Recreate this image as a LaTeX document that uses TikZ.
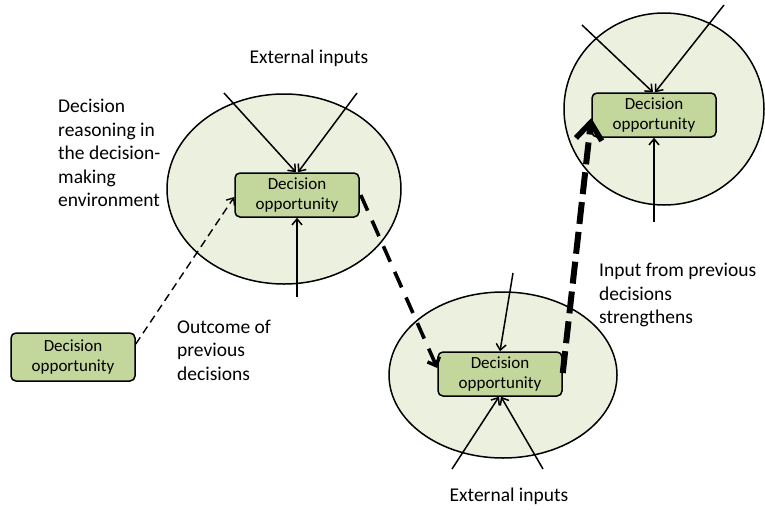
\documentclass[tikz,border=0pt]{standalone}
\usepackage{fontspec}
\setmainfont{Carlito}
\usetikzlibrary{shapes.geometric,arrows.meta}
\definecolor{envfill}{HTML}{EBF1DE}
\definecolor{boxfill}{HTML}{C3D69B}
\tikzset{
  env/.style={ellipse,draw=black,line width=1.5pt,fill=envfill,inner sep=0pt},
  dbox/.style={draw=black,line width=1.5pt,fill=boxfill,rounded corners=5pt,
    minimum width=124pt,minimum height=44pt,inner sep=0pt,align=center,
    font=\fontsize{17}{20.5}\selectfont},
  inarrow/.style={line width=1.5pt,-{Straight Barb[length=6pt,width=10pt,line width=1.5pt]}},
  lbl/.style={font=\fontsize{19.5}{23.5}\selectfont,align=left,inner sep=0pt,anchor=west},
  thindash/.style={line width=1.4pt,dash pattern=on 8pt off 5pt,-{Straight Barb[length=6pt,width=10pt,line width=1.4pt]}},
  meddash/.style={line width=3.6pt,dash pattern=on 17pt off 11pt,-{Straight Barb[length=7pt,width=13pt,line width=3.4pt]}},
  bigdash/.style={line width=6pt,dash pattern=on 22pt off 8pt,-{Straight Barb[length=17pt,width=26pt,line width=5.5pt]}}
}
\begin{document}
\begin{tikzpicture}[x=1pt,y=-1pt]
\useasboundingbox[fill=white] (0,0) rectangle (765,509);
% environments
\node[env,minimum width=234pt,minimum height=190pt] (e1) at (284,189) {};
\node[env,minimum width=228pt,minimum height=166pt] (e2) at (503,375) {};
\node[env,minimum width=200pt,minimum height=192pt] (e3) at (664,109) {};
% decision boxes
\node[dbox] (b1) at (297,195) {Decision\\opportunity};
\node[dbox] (b2) at (500,374) {Decision\\opportunity};
\node[dbox] (b3) at (654,115) {Decision\\opportunity};
\node[dbox,minimum height=48pt] (b0) at (73,357) {Decision\\opportunity};
% free ends
\coordinate (a1) at (224,93);
\coordinate (a2) at (357,93);
\coordinate (a3) at (297,297);
\coordinate (c1) at (513,273);
\coordinate (c2) at (452,469);
\coordinate (c3) at (543,469);
\coordinate (d1) at (582,25);
\coordinate (d2) at (724,5);
\coordinate (d3) at (654,222);
% input arrows
\draw[inarrow] (a1) -- ([xshift=-1pt]b1.north);
\draw[inarrow] (a2) -- ([xshift=1pt]b1.north);
\draw[inarrow] (a3) -- (b1.south);
\draw[inarrow] (c1) -- (b2.north);
\draw[inarrow] (c2) -- ([xshift=-1pt]b2.south);
\draw[inarrow] (c3) -- ([xshift=1pt]b2.south);
\draw[inarrow] (d1) -- ([xshift=-1pt]b3.north);
\draw[inarrow] (d2) -- ([xshift=1pt]b3.north);
\draw[inarrow] (d3) -- (b3.south);
% decision chain
\draw[thindash] ([yshift=13pt]b0.east) -- ([yshift=-2pt]b1.west);
\draw[meddash] ([yshift=0pt,xshift=1pt]b1.east) -- ([yshift=6pt]b2.west);
\draw[bigdash] ([yshift=1pt]b2.east) -- ([yshift=-3pt]b3.west);
% labels
\node[font=\fontsize{19.5}{23.5}\selectfont,inner sep=0pt] (t1) at (309,58) {External inputs};
\node[font=\fontsize{19.5}{23.5}\selectfont,inner sep=0pt] (t2) at (509,496) {External inputs};
\node[lbl] (t3) at (58,153) {Decision\\reasoning in\\the decision-\\making\\environment};
\node[lbl] (t4) at (177,350) {Outcome of\\previous\\decisions};
\node[lbl] (t5) at (599,295) {Input from previous\\decisions\\strengthens};
\end{tikzpicture}
\end{document}
